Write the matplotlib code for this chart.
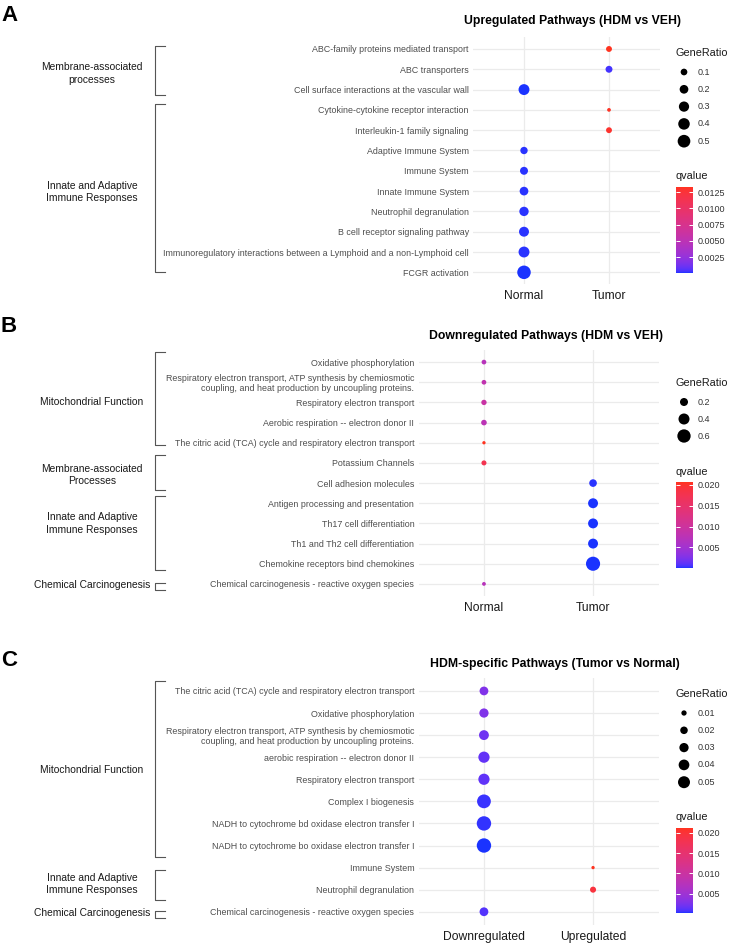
import numpy as np
import matplotlib
matplotlib.use('Agg')
import matplotlib.pyplot as plt
from matplotlib.colors import ListedColormap
from matplotlib.lines import Line2D
from matplotlib.transforms import blended_transform_factory

plt.rcParams['font.family'] = ['Liberation Sans', 'DejaVu Sans']

W, H = 740, 947

# ---------------- data ----------------
# Panel A
a_terms = ["ABC-family proteins mediated transport", "ABC transporters",
           "Cell surface interactions at the vascular wall",
           "Cytokine-cytokine receptor interaction", "Interleukin-1 family signaling",
           "Adaptive Immune System", "Immune System", "Innate Immune System",
           "Neutrophil degranulation", "B cell receptor signaling pathway",
           "Immunoregulatory interactions between a Lymphoid and a non-Lymphoid cell",
           "FCGR activation"]
a_group = ["Tumor", "Tumor", "Normal", "Tumor", "Tumor", "Normal", "Normal",
           "Normal", "Normal", "Normal", "Normal", "Normal"]
a_ratio = [0.07, 0.11, 0.35, 0.015, 0.07, 0.13, 0.16, 0.20, 0.24, 0.28, 0.35, 0.58]
a_q = [0.0133, 0.0003, 0.00005, 0.0131, 0.0129, 0.0001, 0.0001, 0.0001,
       0.0001, 0.0001, 0.0001, 0.00004]
a_xcats = ["Normal", "Tumor"]
a_size_breaks = [0.1, 0.2, 0.3, 0.4, 0.5]
a_q_ticks = [0.0025, 0.0050, 0.0075, 0.0100, 0.0125]

# Panel B
b_terms = ["Oxidative phosphorylation",
           "Respiratory electron transport, ATP synthesis by chemiosmotic\ncoupling, and heat production by uncoupling proteins.",
           "Respiratory electron transport", "Aerobic respiration -- electron donor II",
           "The citric acid (TCA) cycle and respiratory electron transport",
           "Potassium Channels", "Cell adhesion molecules",
           "Antigen processing and presentation", "Th17 cell differentiation",
           "Th1 and Th2 cell differentiation", "Chemokine receptors bind chemokines",
           "Chemical carcinogenesis - reactive oxygen species"]
b_group = ["Normal"] * 6 + ["Tumor"] * 5 + ["Normal"]
b_ratio = [0.06, 0.06, 0.08, 0.09, 0.025, 0.07, 0.18, 0.32, 0.32, 0.32, 0.68, 0.035]
b_q = [0.0072, 0.0082, 0.0093, 0.0077, 0.0207, 0.0176, 0.0002, 0.0001,
       0.0001, 0.0001, 0.00005, 0.0072]
b_xcats = ["Normal", "Tumor"]
b_size_breaks = [0.2, 0.4, 0.6]
b_q_ticks = [0.005, 0.010, 0.015, 0.020]

# Panel C
c_terms = ["The citric acid (TCA) cycle and respiratory electron transport",
           "Oxidative phosphorylation",
           "Respiratory electron transport, ATP synthesis by chemiosmotic\ncoupling, and heat production by uncoupling proteins.",
           "aerobic respiration -- electron donor II", "Respiratory electron transport",
           "Complex I biogenesis", "NADH to cytochrome bd oxidase electron transfer I",
           "NADH to cytochrome bo oxidase electron transfer I", "Immune System",
           "Neutrophil degranulation", "Chemical carcinogenesis - reactive oxygen species"]
c_group = ["Downregulated"] * 8 + ["Upregulated"] * 2 + ["Downregulated"]
c_ratio = [0.027, 0.030, 0.034, 0.044, 0.044, 0.066, 0.072, 0.072, 0.004, 0.013, 0.027]
c_q = [0.0029, 0.0028, 0.0020, 0.0015, 0.0014, 0.0005, 0.0004, 0.0002,
       0.0212, 0.0195, 0.0010]
c_xcats = ["Downregulated", "Upregulated"]
c_size_breaks = [0.01, 0.02, 0.03, 0.04, 0.05]
c_q_ticks = [0.005, 0.010, 0.015, 0.020]

# group annotations: label, bracket start row, bracket end row, label row
a_groups = [("Membrane-associated\nprocesses", -0.13, 2.28, 1.2),
            ("Innate and Adaptive\nImmune Responses", 2.7, 11.0, 7.05)]
b_groups = [("Mitochondrial Function", -0.5, 4.1, 2.0),
            ("Membrane-associated\nProcesses", 4.6, 6.35, 5.6),
            ("Innate and Adaptive\nImmune Responses", 6.65, 10.3, 8.0),
            ("Chemical Carcinogenesis", 10.95, 11.3, 11.05)]
c_groups = [("Mitochondrial Function", -0.45, 7.5, 3.6),
            ("Innate and Adaptive\nImmune Responses", 8.1, 9.45, 8.75),
            ("Chemical Carcinogenesis", 9.95, 10.3, 10.05)]


# ---------------- colour scale (ggplot-like blue -> red in Lab) ----------------
def lab_to_rgb(lab):
    L, a, b = lab.T
    fy = (L + 16) / 116
    fx = fy + a / 500
    fz = fy - b / 200

    def finv(t):
        return np.where(t ** 3 > 0.008856, t ** 3, (t - 16 / 116) / 7.787)

    xyz = np.stack([0.95047 * finv(fx), finv(fy), 1.08883 * finv(fz)], axis=1)
    m = np.array([[3.2406, -1.5372, -0.4986],
                  [-0.9689, 1.8758, 0.0415],
                  [0.0557, -0.2040, 1.0570]])
    rgb = xyz @ m.T
    rgb = np.where(rgb > 0.0031308, 1.055 * np.clip(rgb, 0, None) ** (1 / 2.4) - 0.055, 12.92 * rgb)
    return np.clip(rgb, 0, 1)


lab_blue = np.array([32.30, 79.19, -107.86])
lab_red = np.array([53.24, 80.09, 67.20])
tt = np.linspace(0, 1, 256)[:, None]
rgb = lab_to_rgb(lab_blue + tt * (lab_red - lab_blue))
# the reference rendering is a little lighter than pure blue/red
rgb = np.clip(rgb * 0.9 + np.array([0.1, 0.2, 0.12]), 0, 1)
cmap = ListedColormap(rgb)


def size_fn(a, b):
    # diameter in px -> marker area in pt^2
    return lambda v: (np.clip(a + b * np.sqrt(np.asarray(v)), 1, None) * 0.72) ** 2


fig = plt.figure(figsize=(W / 100, H / 100), dpi=100)
ov = fig.add_axes([0, 0, 1, 1])
ov.set_xlim(0, W)
ov.set_ylim(H, 0)
ov.axis('off')


def px_box(left, top, right, bottom):
    return [left / W, 1 - bottom / H, (right - left) / W, (bottom - top) / H]


panels = [
    dict(terms=a_terms, group=a_group, ratio=a_ratio, q=a_q, xcats=a_xcats,
         breaks=a_size_breaks, qticks=a_q_ticks, qfmt="%.4f", groups=a_groups,
         title="Upregulated Pathways (HDM vs VEH)", title_xy=(573, 21),
         box=(473, 36.8, 660, 284.5), sz=(1.85, 15.3),
         gr_y=53, key_y0=72, key_step=17.3, q_y=176, cbar=(187, 273),
         letter="A", letter_y=5),
    dict(terms=b_terms, group=b_group, ratio=b_ratio, q=b_q, xcats=b_xcats,
         breaks=b_size_breaks, qticks=b_q_ticks, qfmt="%.3f", groups=b_groups,
         title="Downregulated Pathways (HDM vs VEH)", title_xy=(546, 336),
         box=(418.5, 350, 658.5, 596), sz=(0.76, 16.2),
         gr_y=383, key_y0=402, key_step=17, q_y=472, cbar=(482, 568),
         letter="B", letter_y=316),
    dict(terms=c_terms, group=c_group, ratio=c_ratio, q=c_q, xcats=c_xcats,
         breaks=c_size_breaks, qticks=c_q_ticks, qfmt="%.3f", groups=c_groups,
         title="HDM-specific Pathways (Tumor vs Normal)", title_xy=(555, 664),
         box=(418.5, 677.7, 658.5, 925), sz=(-0.1, 54),
         gr_y=694, key_y0=713, key_step=17.3, q_y=817, cbar=(828, 913),
         letter="C", letter_y=650),
]

for p in panels:
    n = len(p["terms"])
    ax = fig.add_axes(px_box(*p["box"]))
    sfun = size_fn(*p["sz"])
    xs = [p["xcats"].index(g) for g in p["group"]]
    ys = np.arange(n)
    sc = ax.scatter(xs, ys, s=sfun(p["ratio"]), c=p["q"], cmap=cmap,
                    vmin=min(p["q"]), vmax=max(p["q"]), linewidths=0, zorder=3)
    ax.set_xlim(-0.6, 1.6)
    ax.set_ylim(n - 0.4, -0.6)
    ax.set_xticks([0, 1])
    ax.set_xticklabels(p["xcats"], fontsize=8.7, color='#1a1a1a')
    ax.set_yticks(ys)
    ax.set_yticklabels(p["terms"], fontsize=6.4, color='#4d4d4d', linespacing=1.1)
    ax.tick_params(length=0, pad=3)
    ax.tick_params(axis='x', pad=4)
    ax.grid(color='#ebebeb', lw=0.9)
    ax.set_axisbelow(True)
    for s in ax.spines.values():
        s.set_visible(False)

    # title and panel letter
    ov.text(*p["title_xy"], p["title"], ha='center', va='center',
            fontsize=8.8, fontweight='bold', color='black')
    ov.text(1, p["letter_y"], p["letter"], ha='left', va='top',
            fontsize=16, fontweight='bold', color='black')

    # size legend
    ov.text(676, p["gr_y"], "GeneRatio", ha='left', va='center', fontsize=7.8, color='#1a1a1a')
    key_y = p["key_y0"] + p["key_step"] * np.arange(len(p["breaks"]))
    ov.scatter([684] * len(p["breaks"]), key_y, s=sfun(p["breaks"]), c='black', linewidths=0)
    for yy, br in zip(key_y, p["breaks"]):
        ov.text(698, yy, f"{br:g}", ha='left', va='center', fontsize=6.5, color='#333333')

    # colour bar
    ov.text(676, p["q_y"], "qvalue", ha='left', va='center', fontsize=7.8, color='#1a1a1a')
    cax = fig.add_axes(px_box(676, p["cbar"][0], 693, p["cbar"][1]))
    cb = fig.colorbar(sc, cax=cax)
    cb.outline.set_visible(False)
    cb.set_ticks(p["qticks"])
    cb.set_ticklabels([p["qfmt"] % t for t in p["qticks"]])
    cax.tick_params(direction='in', color='white', labelcolor='#333333', length=3,
                    width=0.7, labelsize=6.5, pad=3, left=True, right=True)

    # group brackets and labels
    tr = blended_transform_factory(ov.transData, ax.transData)
    for label, y0, y1, ym in p["groups"]:
        ax.add_line(Line2D([165, 155, 155, 165], [y0, y0, y1, y1], transform=tr,
                           clip_on=False, color='#555555', lw=0.8))
        ax.text(92, ym, label, transform=tr, ha='center', va='center',
                fontsize=7.4, color='#1a1a1a', linespacing=1.3)
    ax.set_xlim(-0.6, 1.6)
    ax.set_ylim(n - 0.4, -0.6)

fig.savefig("out.png", dpi=100)
